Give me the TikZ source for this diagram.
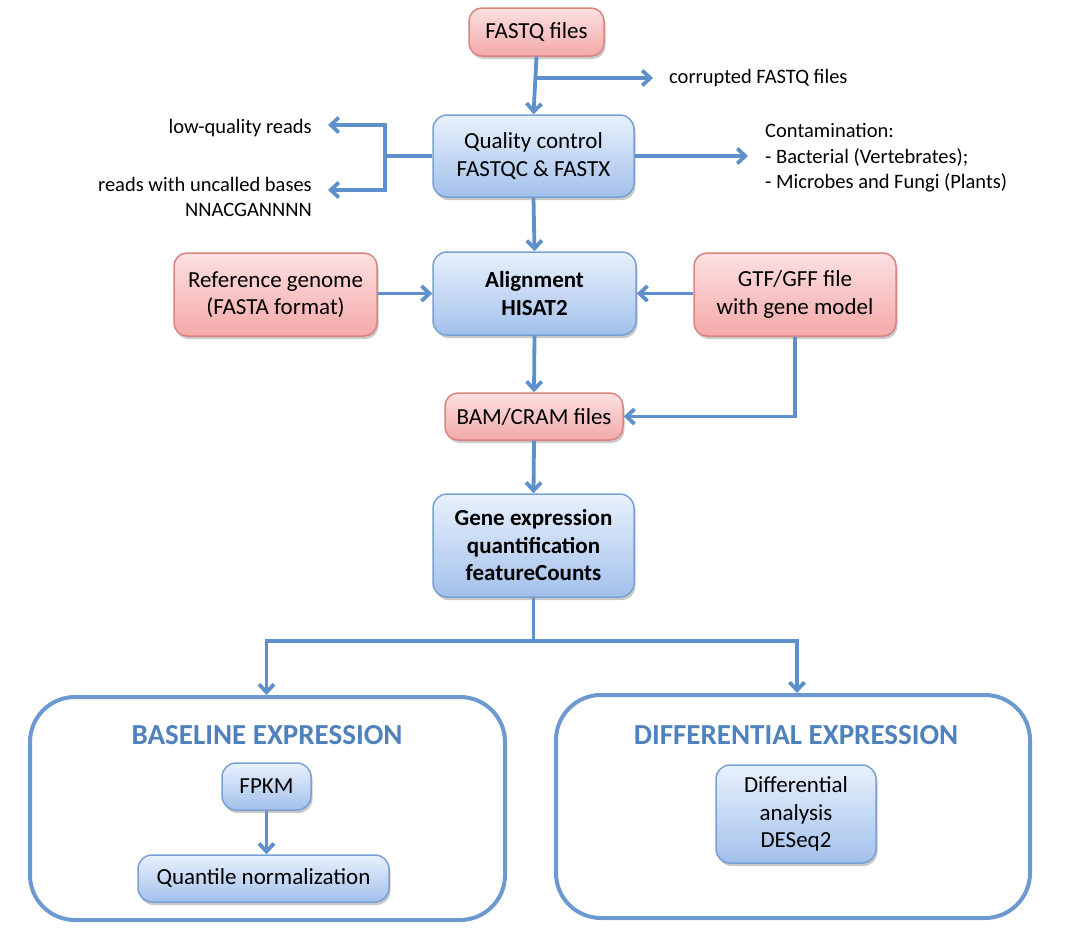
\documentclass[tikz,border=0pt]{standalone}
\usepackage{fontspec}
\setmainfont{Carlito}
\usetikzlibrary{arrows.meta,shadows,calc}
\definecolor{arr}{HTML}{5E90CC}
\definecolor{redtop}{HTML}{FCE0E0}
\definecolor{redbot}{HTML}{F4A9A9}
\definecolor{redline}{HTML}{D98480}
\definecolor{bluetop}{HTML}{E8F1FC}
\definecolor{bluebot}{HTML}{A3C0EB}
\definecolor{blueline}{HTML}{78A0D4}
\definecolor{contline}{HTML}{6C9AD0}
\definecolor{titleblue}{HTML}{4F81BD}
\begin{document}
\begin{tikzpicture}[x=1pt,y=-1pt,
  mainfont/.style={font=\fontsize{23}{27.5}\selectfont},
  sidefont/.style={font=\fontsize{20.5}{25.5}\selectfont},
  shad/.style={drop shadow={shadow xshift=1.5pt,shadow yshift=-3pt,opacity=0.3,fill=black!70}},
  redbox/.style={mainfont,shad,draw=redline,line width=1.5pt,rounded corners=13pt,
    top color=redtop,bottom color=redbot,align=center,inner sep=0pt},
  bluebox/.style={mainfont,shad,draw=blueline,line width=1.5pt,rounded corners=14pt,
    top color=bluetop,bottom color=bluebot,align=center,inner sep=0pt},
  container/.style={draw=contline,line width=4pt,rounded corners=45pt,inner sep=0pt},
  sidetext/.style={sidefont,inner sep=0pt},
  flow/.style={draw=arr,line width=3.8pt,-{Straight Barb[length=8pt,width=15pt,line width=3.8pt]}},
  plain/.style={draw=arr,line width=3.8pt},
  title/.style={font=\fontsize{29}{34}\selectfont\bfseries,text=titleblue,inner sep=0pt}
]
\useasboundingbox (0,0) rectangle (1073,929);

% containers
\node[container,minimum width=475pt,minimum height=223pt] (base) at (267.5,808.5) {};
\node[container,minimum width=474pt,minimum height=223pt] (diff) at (793,806.5) {};

% boxes
\node[redbox,minimum width=135pt,minimum height=48pt] (fastq) at (536.5,32) {FASTQ files};
\node[bluebox,minimum width=201pt,minimum height=82pt] (qc) at (533.5,156) {Quality control\\FASTQC \& FASTX};
\node[bluebox,minimum width=203pt,minimum height=83pt] (align) at (534.5,293.5) {\textbf{Alignment}\\\textbf{HISAT2}};
\node[redbox,minimum width=203pt,minimum height=83pt] (ref) at (275.5,294.5) {Reference genome\\(FASTA format)};
\node[redbox,minimum width=202pt,minimum height=83pt] (gtf) at (795,294.5) {GTF/GFF file\\with gene model};
\node[redbox,minimum width=178pt,minimum height=47pt] (bam) at (534,416.5) {BAM/CRAM files};
\node[bluebox,minimum width=201pt,minimum height=103pt] (gene) at (533.5,545.5) {\textbf{Gene expression}\\\textbf{quantification}\\\textbf{featureCounts}};
\node[title] (btitle) at (267,735) {BASELINE EXPRESSION};
\node[title] (dtitle) at (796,735) {DIFFERENTIAL EXPRESSION};
\node[bluebox,minimum width=89pt,minimum height=47pt] (fpkm) at (266.5,786.5) {FPKM};
\node[bluebox,minimum width=251pt,minimum height=47pt] (quant) at (263.5,878.5) {Quantile normalization};
\node[bluebox,minimum width=160pt,minimum height=98pt] (da) at (796,814) {Differential\\analysis\\DESeq2};

% side texts
\node[sidetext,anchor=west] (corr) at (669,78) {corrupted FASTQ files};
\node[sidetext,anchor=east] (lowq) at (312,128) {low-quality reads};
\node[sidetext,anchor=east,align=right] (uncalled) at (312,197) {reads with uncalled bases\\NNACGANNNN};
\node[sidetext,anchor=west,align=left] (cont) at (765,158) {Contamination:\\- Bacterial (Vertebrates);\\- Microbes and Fungi (Plants)};

% coordinates
\coordinate (cb) at (536.5,78);
\coordinate (corrtip) at (653,78);
\coordinate (lj) at (385,156);
\coordinate (lt) at (385,125);
\coordinate (lb) at (385,190);
\coordinate (lowtip) at (328,125);
\coordinate (unctip) at (328,190);
\coordinate (conttip) at (748,156);
\coordinate (gb) at (533.5,641);
\coordinate (gl) at (266.5,641);
\coordinate (gr) at (797,641);

% connectors
\draw[flow] (fastq.south) -- (qc.north);
\draw[flow] (cb) -- (corrtip);
\draw[plain] (qc.west) -- (lj);
\draw[plain] (lt) -- (lb);
\draw[flow] ([xshift=1.9pt]lt) -- (lowtip);
\draw[flow] ([xshift=1.9pt]lb) -- (unctip);
\draw[flow] (qc.east) -- (conttip);
\draw[flow] (qc.south) -- (align.north);
\draw[flow] (ref.east |- align.west) -- (align.west);
\draw[flow] (gtf.west |- align.east) -- (align.east);
\draw[flow] (align.south) -- (bam.north);
\draw[flow] (gtf.south) |- (bam.east);
\draw[flow] (bam.south) -- (gene.north);
\draw[plain] (gene.south) -- (gb);
\draw[plain,line cap=rect] (gl) -- (gr);
\draw[flow] (gl) -- (gl |- base.north);
\draw[flow] (gr) -- (gr |- diff.north);
\draw[flow] (fpkm.south) -- (quant.north -| fpkm.south);
\end{tikzpicture}
\end{document}
